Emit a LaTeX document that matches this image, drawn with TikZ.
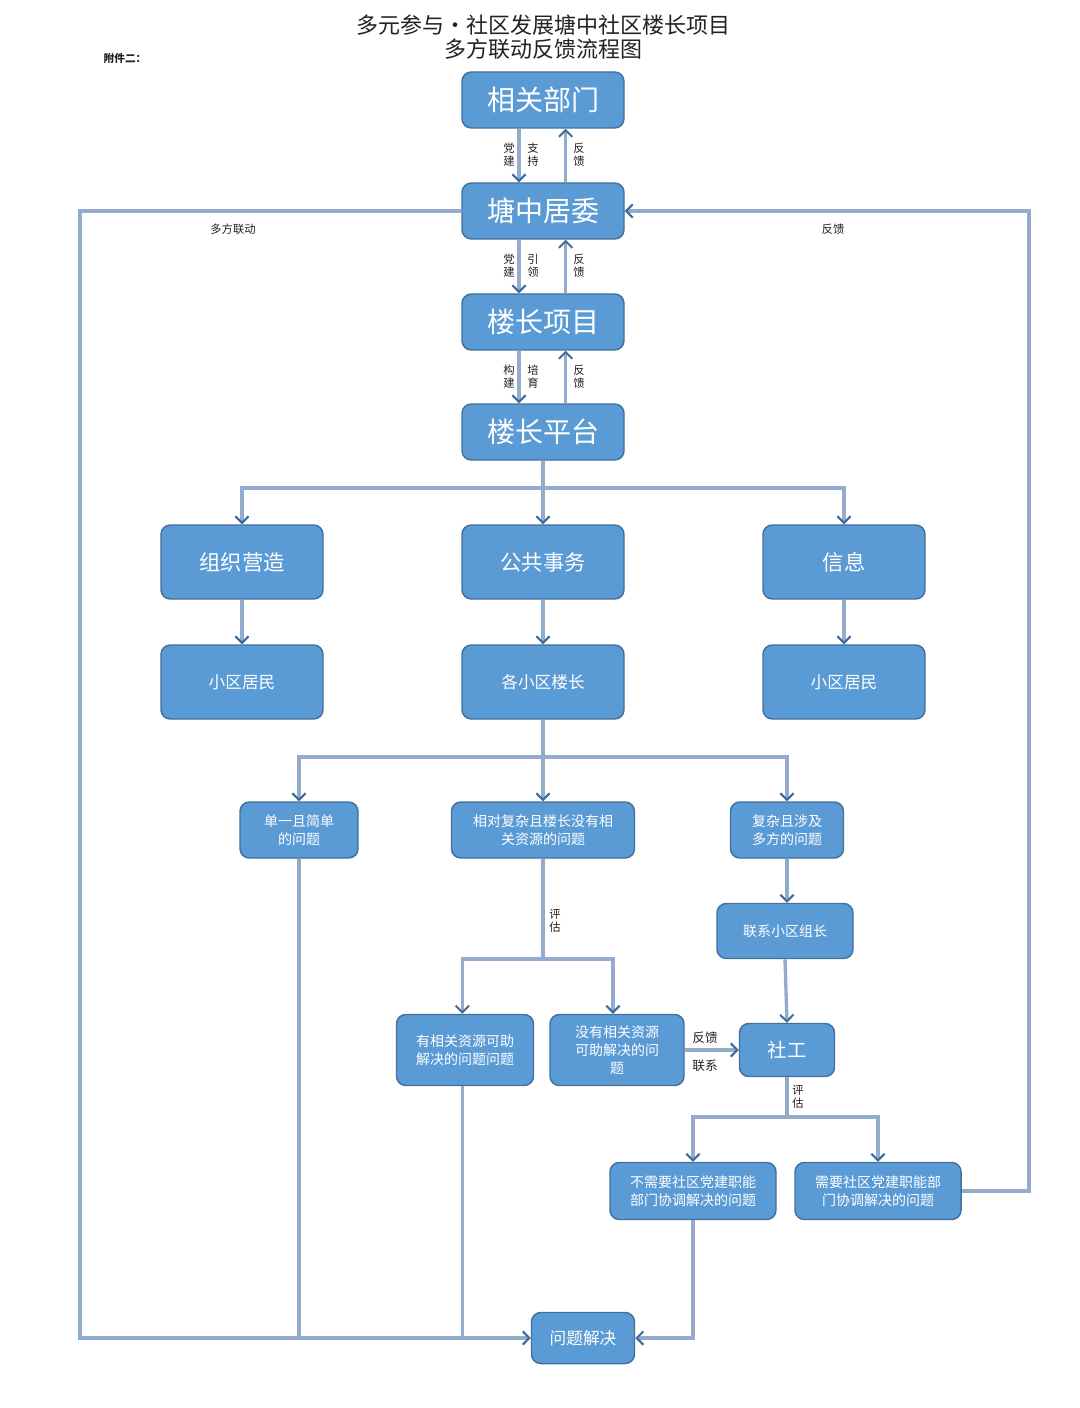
\documentclass[tikz,border=0pt]{standalone}
\usepackage{fontspec}
\setmainfont{Noto Sans CJK SC}
\usetikzlibrary{arrows.meta,calc}
\definecolor{boxfill}{HTML}{5B9BD5}
\definecolor{boxline}{HTML}{41719C}
\definecolor{linec}{HTML}{93ACCE}
\definecolor{arrc}{HTML}{3F6A9C}
\definecolor{labc}{HTML}{222222}
\tikzset{
  box/.style 2 args={draw=boxline, line width=1.1pt, fill=boxfill, rounded corners=7pt,
     text=white, align=center, inner sep=1pt, minimum width=#1*0.75pt, minimum height=#2*0.75pt},
  conn/.style={draw=linec, line width=2.5pt},
  arr/.style={-{Straight Barb[length=5pt,width=10pt,line width=1.5pt,color=arrc]}},
  lab/.style={text=labc, font=\fontsize{8.5}{9.5}\selectfont, align=center, inner sep=0pt},
  big/.style={font=\fontsize{21}{24}\selectfont},
  mid/.style={font=\fontsize{16}{19}\selectfont},
  sml/.style={font=\fontsize{12.5}{15}\selectfont},
  tiny/.style={font=\fontsize{10.5}{13.5}\selectfont},
}
\begin{document}
\begin{tikzpicture}[x=0.75pt,y=-0.75pt]
\useasboundingbox[fill=white] (0,0) rectangle (1080,1408);
% title
\node[font=\fontsize{16.5}{20}\selectfont, align=center, text=labc] (title) at (543,37) {多元参与•社区发展塘中社区楼长项目\\[-2pt]多方联动反馈流程图};
\node[font=\bfseries\fontsize{8}{9}\selectfont, text=labc] (att) at (125,58) {附件二：};
% nodes
\node[box={162}{56}, big] (bm) at (543,100) {相关部门};
\node[box={162}{56}, big] (jw) at (543,211) {塘中居委};
\node[box={162}{56}, big] (lx) at (543,322) {楼长项目};
\node[box={162}{56}, big] (lp) at (543,432) {楼长平台};
\node[box={162}{74}, mid] (zz) at (242,562) {组织营造};
\node[box={162}{74}, mid] (gg) at (543,562) {公共事务};
\node[box={162}{74}, mid] (xx) at (844,562) {信息};
\node[box={162}{74}, sml] (jm1) at (242,682) {小区居民};
\node[box={162}{74}, sml] (lz) at (543,682) {各小区楼长};
\node[box={162}{74}, sml] (jm2) at (844,682) {小区居民};
\node[box={118}{56}, tiny] (dy) at (299,830) {单一且简单\\的问题};
\node[box={183}{56}, tiny] (xd) at (543,830) {相对复杂且楼长没有相\\关资源的问题};
\node[box={113}{56}, tiny] (fz) at (787,830) {复杂且涉及\\多方的问题};
\node[box={136}{55}, tiny] (lxz) at (785,931) {联系小区组长};
\node[box={137}{71}, tiny] (yz) at (465,1050) {有相关资源可助\\解决的问题问题};
\node[box={134}{71}, tiny] (mz) at (617,1050) {没有相关资源\\可助解决的问\\题};
\node[box={95}{53}, font=\fontsize{14.5}{17}\selectfont] (sg) at (787,1050) {社工};
\node[box={166}{57}, tiny] (bx) at (693,1191) {不需要社区党建职能\\部门协调解决的问题};
\node[box={166}{57}, tiny] (xy) at (878,1191) {需要社区党建职能部\\门协调解决的问题};
\node[box={103}{51}, sml] (wj) at (583,1338) {问题解决};
% coordinates
\coordinate (L) at (80,1338);
\coordinate (R) at (1029,211);
\coordinate (b1) at (543,488);
\coordinate (b2) at (543,757);
\coordinate (b3) at (543,959);
\coordinate (b4) at (787,1117);
% top chain
\foreach \a/\b in {bm/jw, jw/lx, lx/lp}{
  \draw[conn,arr] ([xshift=-18pt]\a.south) -- ([xshift=-18pt]\b.north);
  \draw[conn,arr] ([xshift=17pt]\b.north) -- ([xshift=17pt]\a.south);
}
\node[lab] (l1a) at (509,155) {党\\建};
\node[lab] (l1b) at (533,155) {支\\持};
\node[lab] (l1c) at (579,155) {反\\馈};
\node[lab] (l2a) at (509,266) {党\\建};
\node[lab] (l2b) at (533,266) {引\\领};
\node[lab] (l2c) at (579,266) {反\\馈};
\node[lab] (l3a) at (509,377) {构\\建};
\node[lab] (l3b) at (533,377) {培\\育};
\node[lab] (l3c) at (579,377) {反\\馈};
% outer loops
\draw[conn,arr] (jw.west) -| (L) -- (wj.west);
\draw[conn,arr] (xy.east) -| (R) -- (jw.east);
\node[lab] (dflz) at (233,229) {多方联动};
\node[lab] (fk) at (833,229) {反馈};
% tree from platform
\draw[conn] (lp.south) -- (b1);
\draw[conn,arr] (b1) -- (gg.north);
\draw[conn,arr] (b1) -| (zz.north);
\draw[conn,arr] (b1) -| (xx.north);
\draw[conn,arr] (zz.south) -- (jm1.north);
\draw[conn,arr] (gg.south) -- (lz.north);
\draw[conn,arr] (xx.south) -- (jm2.north);
% tree from building leaders
\draw[conn] (lz.south) -- (b2);
\draw[conn,arr] (b2) -- (xd.north);
\draw[conn,arr] (b2) -| (dy.north);
\draw[conn,arr] (b2) -| (fz.north);
\draw[conn] (dy.south) -- (dy.south |- L);
% evaluation
\draw[conn] (xd.south) -- (b3);
\node[lab, anchor=west] (pg1) at (549,921) {评\\估};
\draw[conn,arr] (b3) -| ([xshift=-2pt]yz.north);
\draw[conn,arr] (b3) -| ([xshift=-3pt]mz.north);
\draw[conn] ([xshift=-2pt]yz.south) -- ([xshift=-2pt]yz.south |- L);
% right branch
\draw[conn,arr] (fz.south) -- (lxz.north -| fz.south);
\draw[conn,arr] (lxz.south) -- (sg.north);
\draw[conn,arr] (mz.east) -- (sg.west);
\node[lab, font=\fontsize{9.5}{11}\selectfont] (fk2) at (705,1038) {反馈};
\node[lab, font=\fontsize{9.5}{11}\selectfont] (lx2) at (705,1066) {联系};
\draw[conn] (sg.south) -- (b4);
\node[lab, anchor=west] (pg2) at (792,1097) {评\\估};
\draw[conn,arr] (b4) -| (bx.north);
\draw[conn,arr] (b4) -| (xy.north);
\draw[conn,arr] (bx.south) |- (wj.east);
\end{tikzpicture}
\end{document}
